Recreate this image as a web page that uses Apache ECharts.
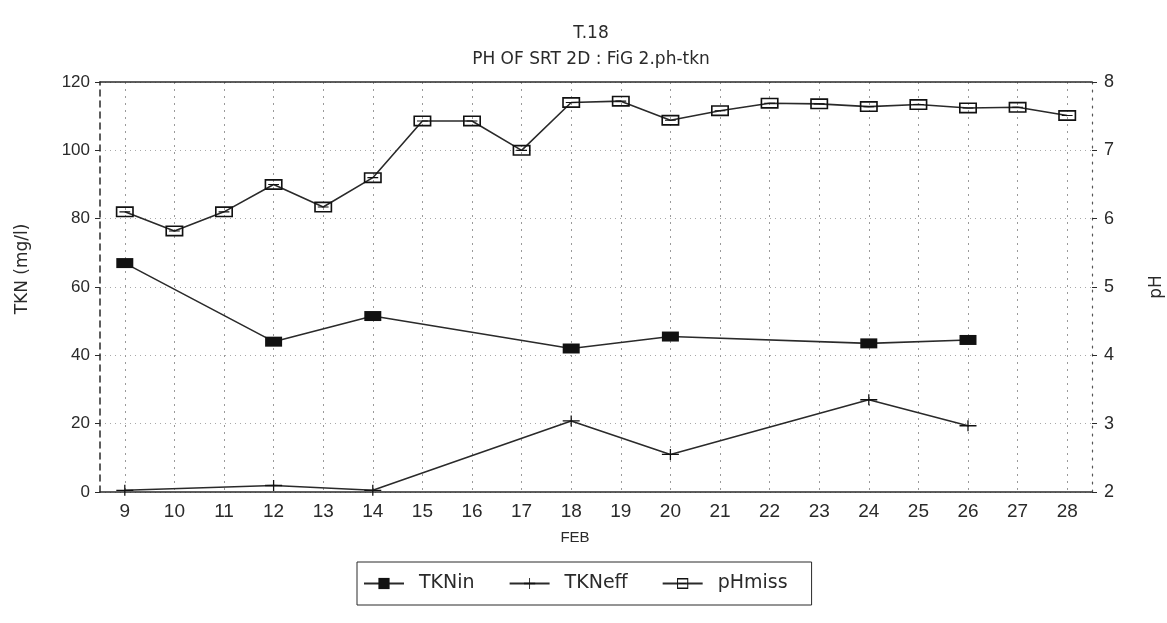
<!DOCTYPE html>
<html>
<head>
<meta charset="utf-8">
<title>T.18 PH OF SRT 2D</title>
<script src="https://cdn.jsdelivr.net/npm/echarts@6/dist/echarts.min.js"></script>
<style>
  html, body { margin: 0; padding: 0; background: #fff; }
  #chart { width: 1167px; height: 623px; }
</style>
</head>
<body>
<div id="chart"></div>
<script>
// February sampling days
const days = ['9','10','11','12','13','14','15','16','17','18','19','20','21','22','23','24','25','26','27','28'];

// Influent TKN (mg/l), sampled on some days only
const tknIn  = [67, null, null, 44, null, 51.5, null, null, null, 42, null, 45.5, null, null, null, 43.5, null, 44.5, null, null];
// Effluent TKN (mg/l)
const tknEff = [0.5, null, null, 1.9, null, 0.5, null, null, null, 20.8, null, 11, null, null, null, 27, null, 19.4, null, null];
// Mixed-liquor pH
const phMiss = [6.1, 5.82, 6.1, 6.5, 6.17, 6.6, 7.43, 7.43, 7.0, 7.7, 7.72, 7.44, 7.58, 7.69, 7.68, 7.64, 7.67, 7.62, 7.63, 7.51];

// Axis tick values
const tknTicks = [0, 20, 40, 60, 80, 100, 120];
const phTicks = [2, 3, 4, 5, 6, 7, 8];

const ink = '#2a2a2a';
const font = 'Liberation Sans';
const wideFont = 'DejaVu Sans';

// Marker shapes: plus sign and an open box with a bar through it
const plusSymbol = 'path://M0,4.4H16V5.6H0Z M7.4,0H8.6V10H7.4Z';
const boxSymbol = 'path://M0,0H20V12H0Z M1.8,1.8V10.2H18.2V1.8Z M4,5.4H16V6.6H4Z';

const chart = echarts.init(document.getElementById('chart'));
chart.setOption({
  backgroundColor: '#fff',
  animation: false,
  textStyle: { fontFamily: font, color: ink },
  title: {
    text: 'T.18\nPH OF SRT 2D : FiG 2.ph-tkn',
    left: 586,
    textAlign: 'center',
    top: 16,
    textStyle: { fontSize: 17, fontWeight: 'normal', color: ink, lineHeight: 26, fontFamily: wideFont }
  },
  legend: {
    data: ['TKNin', 'TKNeff', 'pHmiss'],
    left: 357,
    top: 562,
    padding: [12, 24, 12, 6],
    itemGap: 34,
    itemWidth: 40,
    itemHeight: 14,
    borderColor: ink,
    borderWidth: 1,
    textStyle: { fontSize: 19, color: ink, fontFamily: wideFont, padding: [0, 0, 0, 10] }
  },
  grid: { left: 100, right: 75, top: 82, bottom: 131, containLabel: false, outerBoundsMode: 'none' },
  xAxis: [
    {
      type: 'category',
      data: days,
      boundaryGap: true,
      name: 'FEB',
      nameLocation: 'middle',
      nameGap: 38,
      nameTextStyle: { fontSize: 15, color: ink, padding: [0, 42, 0, 0] },
      axisLine: { lineStyle: { color: ink, width: 1.5 } },
      axisTick: { alignWithLabel: true, length: 5, lineStyle: { color: ink } },
      axisLabel: { fontSize: 19, color: ink, margin: 10 },
      splitLine: { show: true, alignWithLabel: true, lineStyle: { color: '#9a9a9a', type: [2, 5], width: 1 } }
    },
    {
      type: 'category',
      data: days,
      position: 'top',
      axisLine: { lineStyle: { color: ink, width: 1.5 } },
      axisTick: { show: false },
      axisLabel: { show: false },
      splitLine: { show: false }
    }
  ],
  yAxis: [
    {
      type: 'value',
      min: tknTicks[0],
      max: tknTicks[tknTicks.length - 1],
      interval: 20,
      name: 'TKN (mg/l)',
      nameLocation: 'middle',
      nameGap: 69,
      nameRotate: 90,
      nameTextStyle: { fontSize: 17, color: ink, fontFamily: wideFont, padding: [0, 0, 0, 36] },
      axisLine: { show: true, lineStyle: { color: ink, type: [6, 5], width: 1.5 } },
      axisTick: { show: true, length: 5, lineStyle: { color: ink } },
      axisLabel: { fontSize: 17, color: ink, margin: 10 },
      splitLine: { show: true, lineStyle: { color: '#a8a8a8', type: [1, 4], width: 1 } }
    },
    {
      type: 'value',
      min: phTicks[0],
      max: phTicks[phTicks.length - 1],
      interval: 1,
      position: 'right',
      name: 'pH',
      nameLocation: 'middle',
      nameGap: 56,
      nameRotate: 90,
      nameTextStyle: { fontSize: 17, color: ink, fontFamily: wideFont },
      axisLine: { show: true, lineStyle: { color: '#555', type: [2, 6], width: 1.2 } },
      axisTick: { show: true, inside: false, length: 5, lineStyle: { color: ink } },
      axisLabel: { fontSize: 18, color: ink, margin: 12 },
      splitLine: { show: false }
    }
  ],
  series: [
    {
      name: 'TKNin',
      type: 'line',
      yAxisIndex: 0,
      data: tknIn,
      connectNulls: true,
      symbol: 'rect',
      symbolSize: [17, 10],
      lineStyle: { color: ink, width: 1.6 },
      itemStyle: { color: '#111' }
    },
    {
      name: 'TKNeff',
      type: 'line',
      yAxisIndex: 0,
      data: tknEff,
      connectNulls: true,
      symbol: plusSymbol,
      symbolSize: [17, 11],
      lineStyle: { color: ink, width: 1.6 },
      itemStyle: { color: '#111' }
    },
    {
      name: 'pHmiss',
      type: 'line',
      yAxisIndex: 1,
      data: phMiss,
      symbol: boxSymbol,
      symbolSize: [18, 11],
      lineStyle: { color: ink, width: 1.6 },
      itemStyle: { color: '#111' }
    }
  ]
});
</script>
</body>
</html>
